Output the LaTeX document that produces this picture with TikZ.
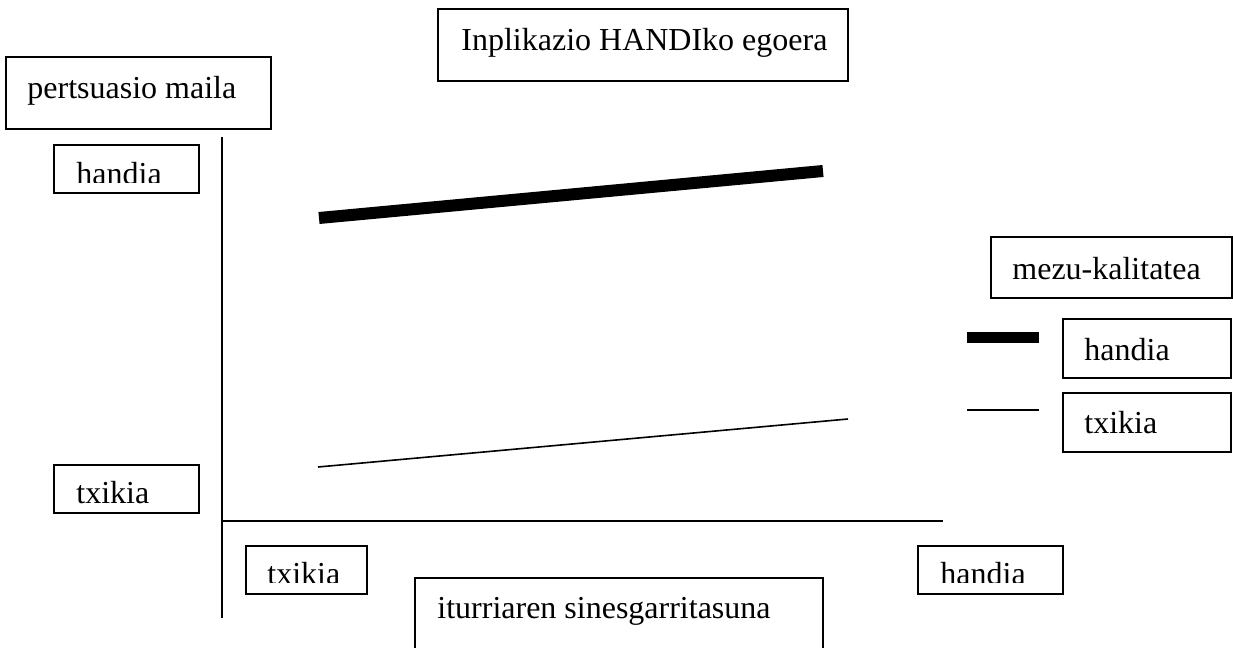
\documentclass[tikz,border=0pt]{standalone}
\usepackage{fontspec}
\setmainfont{Liberation Serif}
\usetikzlibrary{positioning}
\tikzset{
	box/.style={draw=black,line width=0.85pt},
	lbl/.style={anchor=base west,inner sep=0pt,font=\fontsize{16}{19}\selectfont},
	axisline/.style={line width=0.85pt},
	strong/.style={line width=6pt},
	weak/.style={line width=0.8pt}
}
\begin{document}
\begin{tikzpicture}[x=0.5pt,y=-0.5pt]
	\useasboundingbox (0,0) rectangle (1233,648);
	\clip (0,0) rectangle (1233,648);
	
	% situation box
	\draw[box] (438,9) rectangle (848,81);
	\node[lbl] (situation) at (461,50) {Inplikazio HANDIko egoera};
	
	% y axis title
	\draw[box] (6,57) rectangle (271,129);
	\node[lbl] (ytitle) at (27,98) {pertsuasio maila};
	
	% y axis ticks
	\draw[box] (54,145) rectangle (199,193);
	\begin{scope}
		\clip (54,145) rectangle (199,182.5);
		\node[lbl] (yhigh) at (76,184) {handia};
	\end{scope}
	\draw[box] (54,465) rectangle (199,513);
	\node[lbl] (ylow) at (76,503) {txikia};
	
	% axes
	\coordinate (origin) at (222,521);
	\coordinate (ytop) at (222,137);
	\coordinate (ybot) at (222,618);
	\coordinate (xend) at (943,521);
	\draw[axisline] (ytop) -- (ybot);
	\draw[axisline] (origin) -- (xend);
	
	% x axis ticks
	\draw[box] (246,546) rectangle (367,594);
	\begin{scope}
		\clip (246,546) rectangle (367,582.5);
		\node[lbl] (xlow) at (267,584) {txikia};
	\end{scope}
	\draw[box] (918,546) rectangle (1063,594);
	\begin{scope}
		\clip (918,546) rectangle (1063,582.5);
		\node[lbl] (xhigh) at (940,584) {handia};
	\end{scope}
	
	% x axis title
	\draw[box] (415,578) rectangle (823,660);
	\node[lbl] (xtitle) at (437,618) {iturriaren sinesgarritasuna};
	
	% data lines
	\coordinate (hstart) at (319,218);
	\coordinate (hend) at (823,171);
	\coordinate (lstart) at (318,467);
	\coordinate (lend) at (848,419);
	\draw[strong] (hstart) -- (hend);
	\draw[weak] (lstart) -- (lend);
	
	% legend
	\draw[box] (991,237) rectangle (1232,298);
	\node[lbl] (legtitle) at (1012,279) {mezu-kalitatea};
	\draw[box] (1063,319) rectangle (1231,378);
	\node[lbl] (leghigh) at (1084,360) {handia};
	\draw[box] (1063,393) rectangle (1231,452);
	\node[lbl] (leglow) at (1084,433) {txikia};
	\coordinate (kh1) at (967,337.5);
	\coordinate (kh2) at (1039,337.5);
	\coordinate (kl1) at (967,410);
	\coordinate (kl2) at (1039,410);
	\draw[line width=5.5pt] (kh1) -- (kh2);
	\draw[weak] (kl1) -- (kl2);
\end{tikzpicture}
\end{document}
